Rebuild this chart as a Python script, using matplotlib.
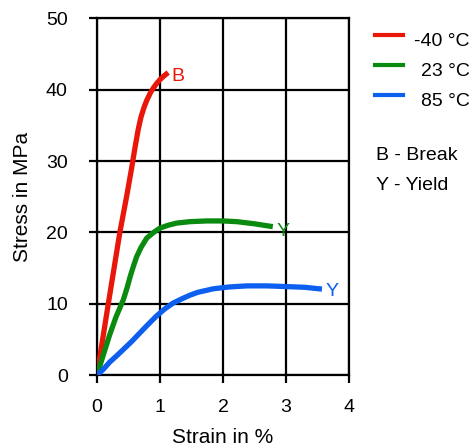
import matplotlib
matplotlib.use("Agg")
import matplotlib.pyplot as plt
from matplotlib.lines import Line2D

plt.rcParams['font.family'] = ['Liberation Sans', 'DejaVu Sans']

# ======================
# data
# ======================
red_x = [0, 0.18, 0.365, 0.47, 0.55, 0.6, 0.656, 0.7, 0.75, 0.79, 0.85, 0.9, 0.95, 1.0, 1.06, 1.13]
red_y = [0, 10, 20.1, 25.0, 29.0, 31.7, 34.5, 36.2, 37.6, 38.5, 39.6, 40.3, 40.9, 41.4, 41.9, 42.4]

green_x = [0, 0.1, 0.2, 0.3, 0.42, 0.48, 0.53, 0.58, 0.63, 0.7, 0.79, 0.9, 1.0, 1.13, 1.265,
           1.476, 1.74, 2.0, 2.22, 2.5, 2.79]
green_y = [0, 2.8, 5.6, 8.1, 10.6, 12.3, 13.9, 15.3, 16.6, 17.9, 19.2, 20.0, 20.6, 21.0, 21.3,
           21.5, 21.6, 21.6, 21.5, 21.2, 20.8]

blue_x = [0, 0.1, 0.2, 0.3, 0.42, 0.55, 0.68, 0.8, 0.947, 1.08, 1.21, 1.35, 1.476, 1.6, 1.85,
          2.1, 2.38, 2.7, 3.01, 3.3, 3.57]
blue_y = [0, 0.8, 1.8, 2.6, 3.6, 4.7, 5.9, 7.0, 8.3, 9.3, 10.1, 10.7, 11.2, 11.6, 12.1,
          12.35, 12.5, 12.5, 12.4, 12.3, 12.05]

series_labels = ["-40 °C", "23 °C", "85 °C"]
colors = ["#e8170a", "#0a8a0f", "#0d5ff0"]

x_ticks = [0, 1, 2, 3, 4]
y_ticks = [0, 10, 20, 30, 40, 50]

# ======================
# figure
# ======================
fig = plt.figure(figsize=(4.73, 4.46), dpi=100)
ax = fig.add_axes([0.205, 0.159, 0.533, 0.800])

for xs, ys, c in zip([red_x, green_x, blue_x], [red_y, green_y, blue_y], colors):
    ax.plot(xs, ys, color=c, lw=3.8, solid_capstyle="butt", solid_joinstyle="round", zorder=3)

# end markers
ax.text(1.18, 41.8, "B", color=colors[0], fontsize=14, va="center", ha="left")
ax.text(2.85, 20.1, "Y", color=colors[1], fontsize=14, va="center", ha="left")
ax.text(3.63, 11.7, "Y", color=colors[2], fontsize=14, va="center", ha="left")

ax.set_xlim(0, 4)
ax.set_ylim(0, 50)
ax.set_xticks(x_ticks)
ax.set_yticks(y_ticks)
ax.grid(True, color="black", lw=1.6)
for s in ax.spines.values():
    s.set_linewidth(1.6)
ax.tick_params(direction="out", length=6, width=1.6, labelsize=14)
ax.tick_params(axis="x", pad=11)
ax.tick_params(axis="y", pad=15)
ax.set_xlabel("Strain in %", fontsize=15, labelpad=9)
ax.set_ylabel("Stress in MPa", fontsize=15, labelpad=10)

# legend drawn at the right side
leg_y = [0.9215, 0.854, 0.787]
for yy, c, lab in zip(leg_y, colors, series_labels):
    fig.add_artist(Line2D([0.793, 0.851], [yy, yy], color=c, lw=3.0, transform=fig.transFigure))
    fig.text(0.993, yy - 0.0245, lab, fontsize=14, ha="right", va="baseline")
fig.text(0.795, 0.641, "B - Break", fontsize=14, va="baseline")
fig.text(0.795, 0.574, "Y - Yield", fontsize=14, va="baseline")

plt.savefig("out.png", dpi=100)
